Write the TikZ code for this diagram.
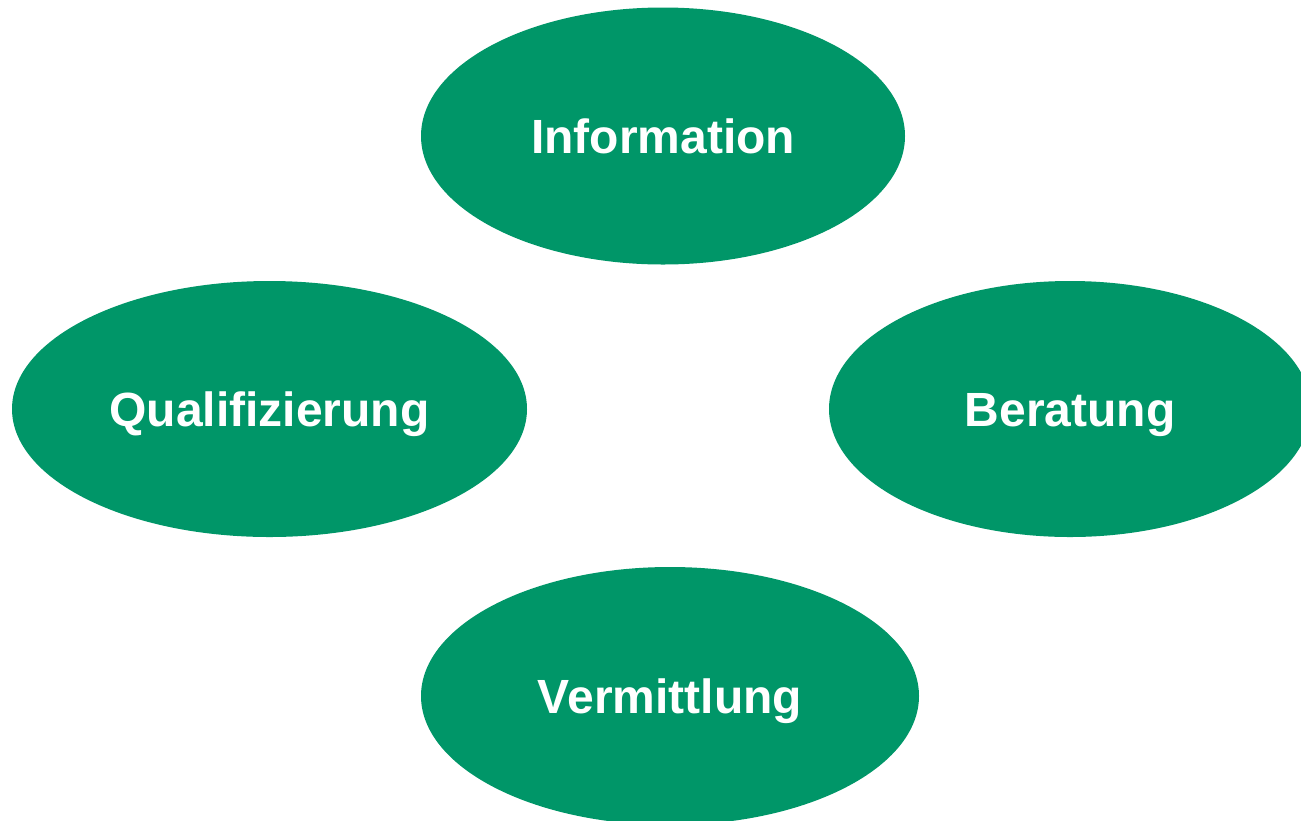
\documentclass[tikz,border=0pt]{standalone}
\usepackage{fontspec}
\setmainfont{Liberation Sans}
\usetikzlibrary{shapes.geometric}
\definecolor{ovalgreen}{RGB}{0,150,104}
\tikzset{
  oval/.style={ellipse, fill=ovalgreen, draw=none, inner sep=0pt,
    text height=17.5pt, text depth=0pt,
    text=white, font=\fontsize{24}{28}\selectfont\bfseries}
}
\begin{document}
\begin{tikzpicture}[x=0.5pt,y=-0.5pt]
\useasboundingbox (0,0) rectangle (1301,820);
\clip (0,0) rectangle (1301,820);
\node[oval, minimum width=242pt, minimum height=128.5pt] (info) at (663,136) {Information};
\node[oval, minimum width=257.5pt, minimum height=128pt] (qual) at (269.5,409) {Qualifizierung};
\node[oval, minimum width=241pt, minimum height=128pt] (ber) at (1070,409) {Beratung};
\node[oval, minimum width=249pt, minimum height=129pt] (verm) at (670,696) {Vermittlung};
\end{tikzpicture}
\end{document}
